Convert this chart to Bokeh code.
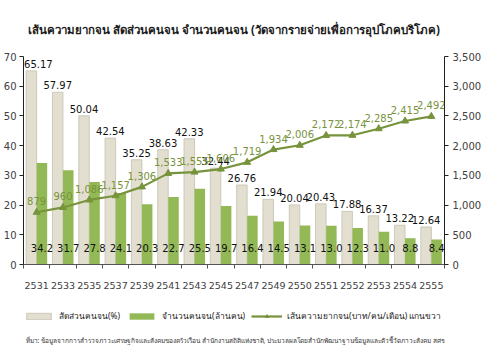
from bokeh.plotting import figure
from bokeh.layouts import column
from bokeh.models import (Range1d, LinearAxis, FixedTicker, Legend, LegendItem,
                          Label, ColumnDataSource, NumeralTickFormatter)
from bokeh.core.properties import value
from bokeh.transform import dodge
from bokeh.embed import file_html
from bokeh.resources import INLINE

# ---------------- data ----------------
years = ["2531", "2533", "2535", "2537", "2539", "2541", "2543", "2545",
         "2547", "2549", "2550", "2551", "2552", "2553", "2554", "2555"]
poverty_ratio = [65.17, 57.97, 50.04, 42.54, 35.25, 38.63, 42.33, 32.44,
                 26.76, 21.94, 20.04, 20.43, 17.88, 16.37, 13.22, 12.64]
poor_count = [34.2, 31.7, 27.8, 24.1, 20.3, 22.7, 25.5, 19.7,
              16.4, 14.5, 13.1, 13.0, 12.3, 11.0, 8.8, 8.4]
poverty_line = [879, 960, 1086, 1157, 1306, 1533, 1555, 1606,
                1719, 1934, 2006, 2172, 2174, 2285, 2415, 2492]
left_ticks = [0, 10, 20, 30, 40, 50, 60, 70]
right_ticks = [0, 500, 1000, 1500, 2000, 2500, 3000, 3500]

title_text = "เส้นความยากจน สัดส่วนคนจน จำนวนคนจน (วัดจากรายจ่ายเพื่อการอุปโภคบริโภค)"
legend_labels = ["สัดส่วนคนจน(%)", "จำนวนคนจน(ล้านคน)",
                 "เส้นความยากจน(บาท/คน/เดือน) แกนขวา"]
source_text = ("ที่มา: ข้อมูลจากการสำรวจภาวะเศรษฐกิจและสังคมของครัวเรือน สำนักงานสถิติแห่งชาติ, "
               "ประมวลผลโดยสำนักพัฒนาฐานข้อมูลและตัวชี้วัดภาวะสังคม สศช.")

# ---------------- styles ----------------
BEIGE = "#e2dfd0"
BEIGE_LINE = "#c4c0b0"
GREEN = "#93b956"
LINE_GREEN = "#77933c"
FONT = "DejaVu Sans"
THAI_FONT = "Noto Sans"

n = len(years)
xs = list(range(n))
src = ColumnDataSource(dict(
    x=xs,
    ratio=poverty_ratio,
    count=poor_count,
    pline=poverty_line,
    ratio_lbl=[f"{v:.2f}" for v in poverty_ratio],
    count_lbl=[f"{v:.1f}" for v in poor_count],
    pline_lbl=[f"{v:,}" for v in poverty_line],
    ratio_dx=[7] + [0] * (n - 1),
    zero=[0] * n,
))

p = figure(width=484, height=300, output_backend="svg", toolbar_location=None,
           x_range=Range1d(-0.5, n - 0.5), y_range=Range1d(0, 70),
           min_border_left=22, min_border_right=39, min_border_top=52,
           min_border_bottom=36)
p.extra_y_ranges = {"right": Range1d(0, 3500)}
p.outline_line_color = None
p.xgrid.visible = False
p.ygrid.visible = False

# title
p.title.text = title_text
p.title.align = "center"
p.title.text_font = THAI_FONT
p.title.text_font_size = "11.5px"
p.title.text_font_style = "bold"
p.title.text_color = "#1a1a1a"
p.title.standoff = 39

p.vbar(x=dodge("x", -0.2, range=p.x_range), top="ratio", width=0.4,
       source=src, fill_color=BEIGE, line_color=BEIGE_LINE, line_width=0.8)
p.vbar(x=dodge("x", 0.2, range=p.x_range), top="count", width=0.4,
       source=src, fill_color=GREEN, line_color=None)
p.line(x="x", y="pline", y_range_name="right", source=src,
       line_color=LINE_GREEN, line_width=2.2)
p.scatter(x="x", y="pline", y_range_name="right", source=src,
          marker="triangle", size=7, fill_color=LINE_GREEN, line_color=LINE_GREEN)

# labels
p.text(x=dodge("x", -0.2, range=p.x_range), y="ratio", text="ratio_lbl", source=src,
       x_offset="ratio_dx", y_offset=-3, text_align="center", text_baseline="bottom",
       text_font=value(FONT), text_font_size="10px", text_color="#111111")
p.text(x=dodge("x", 0.2, range=p.x_range), y="zero", text="count_lbl", source=src,
       y_offset=-17, text_align="center", text_baseline="middle",
       text_font=value(FONT), text_font_size="10px", text_color="#111111")
p.text(x="x", y="pline", y_range_name="right", text="pline_lbl", source=src,
       y_offset=-7, text_align="center", text_baseline="bottom",
       text_font=value(FONT), text_font_size="10px", text_color=LINE_GREEN)

# axes
xa = p.xaxis[0]
xa.ticker = FixedTicker(ticks=xs, minor_ticks=[i - 0.5 for i in range(n + 1)])
xa.major_label_overrides = {i: y for i, y in enumerate(years)}
xa.major_tick_out = 0
xa.major_tick_in = 0
xa.minor_tick_out = 4
xa.minor_tick_in = 0
xa.axis_line_color = "#555555"
xa.minor_tick_line_color = "#555555"
xa.major_label_standoff = 13
xa.major_label_text_font = FONT
xa.major_label_text_font_size = "9.5px"
xa.major_label_text_color = "#404040"

ya = p.yaxis[0]
ya.ticker = FixedTicker(ticks=left_ticks)
ya.major_tick_out = 4
ya.major_tick_in = 0
ya.minor_tick_line_color = None
ya.axis_line_color = "#222222"
ya.major_tick_line_color = "#222222"
ya.major_label_standoff = 3
ya.major_label_text_font = FONT
ya.major_label_text_font_size = "10px"
ya.major_label_text_color = "#404040"

ra = LinearAxis(y_range_name="right", ticker=FixedTicker(ticks=right_ticks),
                formatter=NumeralTickFormatter(format="0,0"))
ra.major_tick_out = 4
ra.major_tick_in = 0
ra.minor_tick_line_color = None
ra.axis_line_color = "#222222"
ra.major_tick_line_color = "#222222"
ra.major_label_standoff = 4
ra.major_label_text_font = FONT
ra.major_label_text_font_size = "10px"
ra.major_label_text_color = "#404040"
p.add_layout(ra, "right")

# ---------------- legend + source strip ----------------
# the strip's ranges lie away from the data, so its renderers only feed the legend
q = figure(width=484, height=51, output_backend="svg", toolbar_location=None,
           x_range=Range1d(100, 101), y_range=Range1d(100, 101),
           min_border=0, outline_line_color=None)
q.axis.visible = False
q.grid.visible = False
r1 = q.vbar(x="x", top="ratio", width=0.4, source=src,
            fill_color=BEIGE, line_color=BEIGE_LINE, line_width=0.8)
r2 = q.vbar(x="x", top="count", width=0.4, source=src,
            fill_color=GREEN, line_color=None)
r3 = q.line(x="x", y="pline", source=src, line_color=LINE_GREEN, line_width=2.2)
r4 = q.scatter(x="x", y="pline", source=src, marker="triangle", size=6,
               fill_color=LINE_GREEN, line_color=LINE_GREEN)
legend = Legend(items=[
    LegendItem(label=legend_labels[0], renderers=[r1]),
    LegendItem(label=legend_labels[1], renderers=[r2]),
    LegendItem(label=legend_labels[2], renderers=[r3, r4]),
], orientation="horizontal", location=(0, 28),
    glyph_width=31, glyph_height=8, label_standoff=5, spacing=6,
    padding=0, margin=0, border_line_color=None, background_fill_alpha=0,
    label_text_font=THAI_FONT, label_text_font_size="8.4px",
    label_text_color="#222222", label_height=12)
q.add_layout(legend, "center")

q.add_layout(Label(x=2, y=11, x_units="screen", y_units="screen",
                   text=source_text, text_align="left", text_baseline="middle",
                   text_font=THAI_FONT, text_font_size="6.5px",
                   text_color="#333333"))

open("out.html", "w").write(file_html(column(p, q, spacing=0), INLINE))
